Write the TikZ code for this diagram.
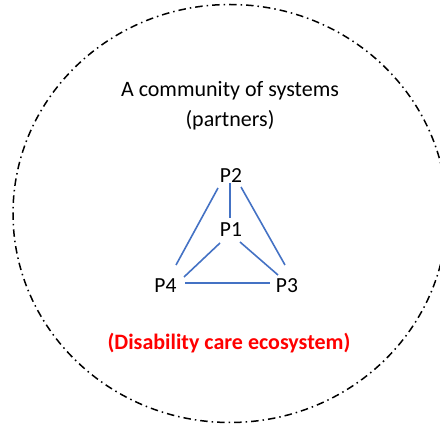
\documentclass[tikz,border=0pt]{standalone}
\usepackage{fontspec}
\setmainfont{Carlito}
\usetikzlibrary{calc}
\definecolor{linkblue}{HTML}{4472C4}
\definecolor{ecored}{HTML}{FF0000}
\tikzset{
  pnode/.style={inner sep=0pt, font=\fontsize{21.5}{25}\selectfont},
  caption/.style={inner sep=0pt, anchor=base, font=\fontsize{22}{26}\selectfont},
  link/.style={draw=linkblue, line width=1.6pt},
  boundary/.style={draw=black, line width=1.5pt, dash pattern=on 7.5pt off 4pt on 1.5pt off 4pt}
}
\begin{document}
\begin{tikzpicture}[x=1pt,y=-1pt]
\useasboundingbox (0,0) rectangle (440,427);
\clip (0,0) rectangle (440,427);
\draw[boundary] (230,213.5) ellipse [x radius=217, y radius=209];
\node[caption] (title1) at (230,97) {A community of systems};
\node[caption] (title2) at (230,127) {(partners)};
\node[pnode] (P2) at (231,176) {P2};
\node[pnode] (P1) at (231,230) {P1};
\node[pnode] (P4) at (165.5,286) {P4};
\node[pnode] (P3) at (287,286) {P3};
\draw[link] ($(P2)+(-1,7)$) -- ($(P1)+(-1,-12)$);
\draw[link] ($(P2)+(-13,12)$) -- ($(P4)+(10.5,-21)$);
\draw[link] ($(P2)+(10,11)$) -- ($(P3)+(-2,-21)$);
\draw[link] ($(P1)+(-11,13)$) -- ($(P4)+(18.5,-9)$);
\draw[link] ($(P1)+(9,12)$) -- ($(P3)+(-9,-11)$);
\draw[link] ($(P4)+(19.5,-3)$) -- ($(P3)+(-17,-3)$);
\node[caption, text=ecored, font=\fontsize{22}{26}\selectfont\bfseries] (eco) at (229,350) {(Disability care ecosystem)};
\end{tikzpicture}
\end{document}
